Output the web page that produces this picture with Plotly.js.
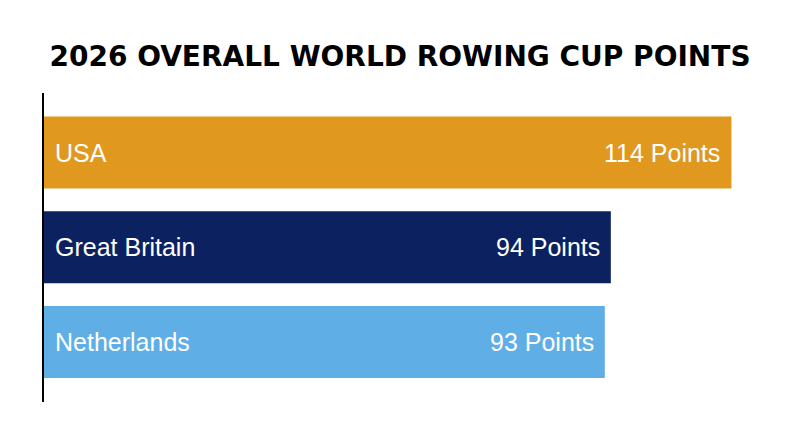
<!DOCTYPE html>
<html><head><meta charset="utf-8">
<script src="https://cdn.plot.ly/plotly-3.0.1.min.js"></script>
<style>html,body{margin:0;padding:0;background:#fff}#chart{width:800px;height:447px}</style>
</head><body><div id="chart"></div>
<script>
const countries = ["USA", "Great Britain", "Netherlands"];
const points = [114, 94, 93];
const barColors = ["#E0981F", "#0C2260", "#5FAEE6"];
const titleText = "2026 OVERALL WORLD ROWING CUP POINTS";

const trace = {
  type: "bar", orientation: "h",
  x: points, y: countries,
  marker: {color: barColors, line: {width: 0}},
  width: 0.76,
  hoverinfo: "none"
};

const labelFont = {family: "Liberation Sans, Arial, sans-serif", size: 25, color: "#ffffff"};
const annotations = [];
countries.forEach((c, i) => {
  annotations.push({x: 0, y: c, xref: "x", yref: "y", text: c, showarrow: false,
    xanchor: "left", yanchor: "middle", xshift: 9, font: labelFont});
  annotations.push({x: points[i], y: c, xref: "x", yref: "y", text: points[i] + " Points", showarrow: false,
    xanchor: "right", yanchor: "middle", xshift: -9, font: labelFont});
});

const layout = {
  width: 800, height: 447,
  margin: {l: 44, r: 36, t: 93, b: 45},
  paper_bgcolor: "#ffffff", plot_bgcolor: "#ffffff",
  showlegend: false,
  title: {text: "<b>" + titleText + "</b>", x: 0.5, xanchor: "center", y: 0.874, yanchor: "middle",
    font: {family: "DejaVu Sans, sans-serif", size: 28, color: "#000000"}},
  xaxis: {range: [0, 119.4], visible: false, fixedrange: true},
  yaxis: {range: [2.633, -0.628], showline: true, linecolor: "#000000", linewidth: 2.5,
    showticklabels: false, ticks: "", showgrid: false, zeroline: false, fixedrange: true},
  annotations: annotations
};

Plotly.newPlot("chart", [trace], layout, {displayModeBar: false, staticPlot: true});
</script></body></html>
